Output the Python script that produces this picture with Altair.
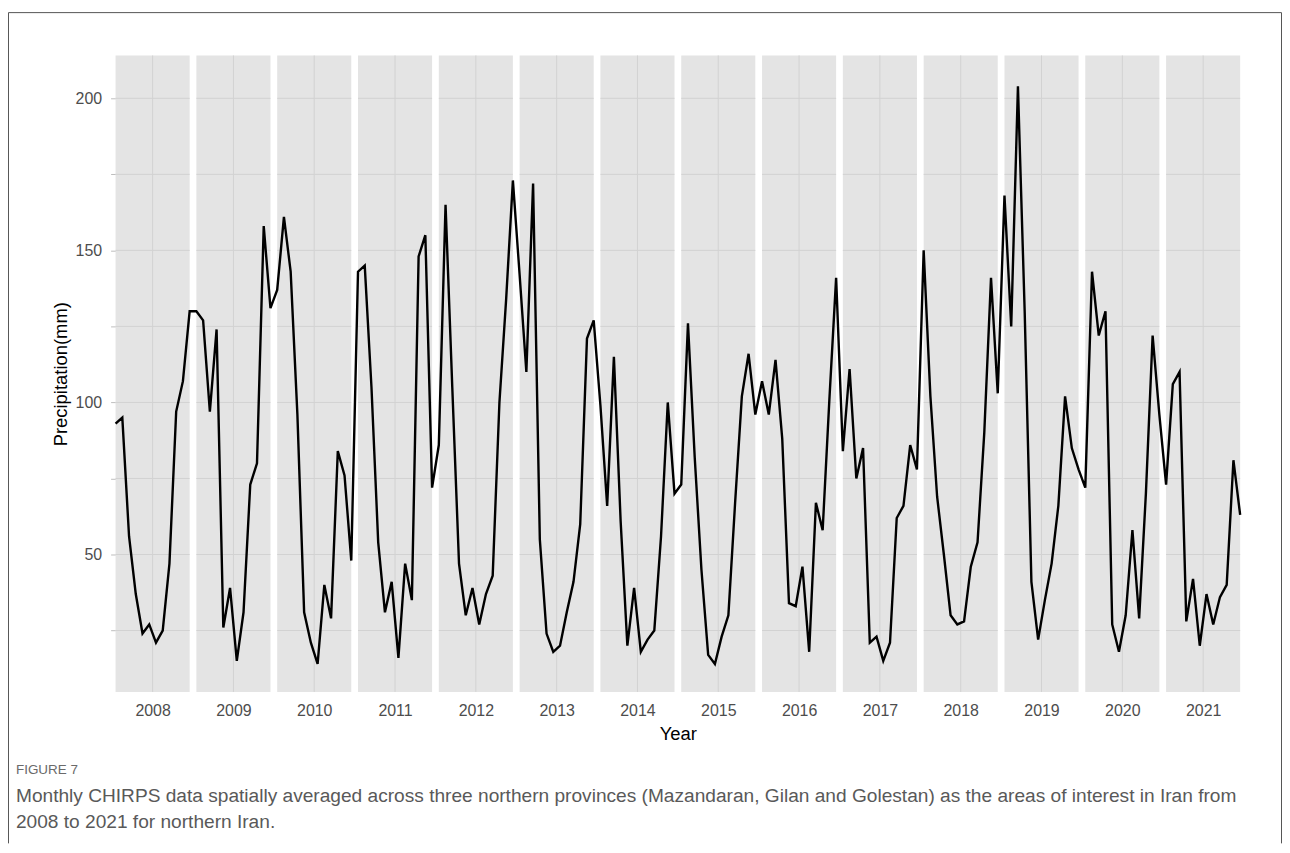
import altair as alt
import pandas as pd

# ---------------- data ----------------
years = list(range(2008, 2022))
# monthly precipitation (mm), Jan..Dec for each year 2008..2021
precip = [
    93, 95, 56, 37, 24, 27, 21, 25, 47, 97, 107, 130,      # 2008
    130, 127, 97, 124, 26, 39, 15, 31, 73, 80, 158, 131,   # 2009
    137, 161, 143, 96, 31, 21, 14, 40, 29, 84, 76, 48,     # 2010
    143, 145, 105, 54, 31, 41, 16, 47, 35, 148, 155, 72,   # 2011
    86, 165, 105, 47, 30, 39, 27, 37, 43, 100, 134, 173,   # 2012
    142, 110, 172, 55, 24, 18, 20, 31, 41, 60, 121, 127,   # 2013
    99, 66, 115, 61, 20, 39, 18, 22, 25, 56, 100, 70,      # 2014
    73, 126, 82, 45, 17, 14, 23, 30, 67, 102, 116, 96,     # 2015
    107, 96, 114, 88, 34, 33, 46, 18, 67, 58, 101, 141,    # 2016
    84, 111, 75, 85, 21, 23, 15, 21, 62, 66, 86, 78,       # 2017
    150, 102, 69, 50, 30, 27, 28, 46, 54, 90, 141, 103,    # 2018
    168, 125, 204, 130, 41, 22, 35, 47, 66, 102, 85, 78,   # 2019
    72, 143, 122, 130, 27, 18, 30, 58, 29, 70, 122, 96,    # 2020
    73, 106, 110, 28, 42, 20, 37, 27, 36, 40, 81, 63,      # 2021
]
y_ticks = [25, 50, 75, 100, 125, 150, 175, 200]
y_title = "Precipitation(mm)"
x_title = "Year"
fig_label = "FIGURE 7"
caption_1 = ("Monthly CHIRPS data spatially averaged across three northern provinces "
             "(Mazandaran, Gilan and Golestan) as the areas of interest in Iran from")
caption_2 = "2008 to 2021 for northern Iran."

# ---------------- tables ----------------
n = len(precip)
line_df = pd.DataFrame({"t": list(range(n)), "p": precip})
panel_df = pd.DataFrame({
    "year": years,
    "x0": [12 * k for k in range(len(years))],
    "x1": [12 * k + 11 for k in range(len(years))],
    "xc": [12 * k + 5.5 for k in range(len(years))],
})
hgrid_df = pd.DataFrame([
    {"x0": 12 * k, "x1": 12 * k + 11, "g": g}
    for k in range(len(years)) for g in y_ticks
])
one = pd.DataFrame({"k": [0]})

W, H = 1129, 639
X_DOM = [0, n - 1]
Y_DOM = [4.8, 214.1]

x_axis = alt.Axis(
    values=[12 * k + 5.5 for k in range(len(years))],
    labelExpr="'' + (2008 + floor(datum.value / 12))",
    ticks=False, domain=False, grid=False,
    labelPadding=11, labelFontSize=16, labelColor="#4d4d4d",
    title=x_title, titleFontSize=18.5, titleColor="#000000",
    titleFontWeight="normal", titlePadding=6,
)
y_axis = alt.Axis(
    values=y_ticks,
    labelExpr="datum.value % 50 == 0 ? datum.label : ''",
    ticks=True, tickSize=5, tickColor="#bdbdbd", domain=False, grid=False,
    labelPadding=9, labelFontSize=16, labelColor="#4d4d4d",
    title=y_title, titleFontSize=18.5, titleColor="#000000",
    titleFontWeight="normal", titlePadding=5,
)
xs = alt.Scale(domain=X_DOM, nice=False, zero=False)
ys = alt.Scale(domain=Y_DOM, nice=False, zero=False)

panels = alt.Chart(panel_df).mark_rect(color="#e4e4e4").encode(
    x=alt.X("x0:Q", scale=xs, axis=x_axis),
    x2="x1:Q",
    y=alt.value(0),
    y2=alt.value(H),
)

hgrid = alt.Chart(hgrid_df).mark_rule(color="#d2d2d2", strokeWidth=1).encode(
    x=alt.X("x0:Q", scale=xs, axis=x_axis),
    x2="x1:Q",
    y=alt.Y("g:Q", scale=ys, axis=y_axis),
)

vgrid = alt.Chart(panel_df).mark_rule(color="#d2d2d2", strokeWidth=1).encode(
    x=alt.X("xc:Q", scale=xs, axis=x_axis),
    y=alt.value(0),
    y2=alt.value(H),
)

line = alt.Chart(line_df).mark_line(color="#000000", strokeWidth=2.4).encode(
    x=alt.X("t:Q", scale=xs, axis=x_axis),
    y=alt.Y("p:Q", scale=ys, axis=y_axis),
)

# figure frame (page coords converted to plot-relative)
FL, FR, FT, FB = -107.5, 1170.5, -43, 791
frame_color = "#555555"
frame_left = alt.Chart(one).mark_rule(color=frame_color, strokeWidth=1).encode(
    x=alt.value(FL), y=alt.value(FT), y2=alt.value(FB))
frame_right = alt.Chart(one).mark_rule(color=frame_color, strokeWidth=1).encode(
    x=alt.value(FR), y=alt.value(FT), y2=alt.value(FB))
frame_top = alt.Chart(one).mark_rule(color=frame_color, strokeWidth=1).encode(
    x=alt.value(FL), x2=alt.value(FR), y=alt.value(FT))

cap_font = "Liberation Sans, Arial, sans-serif"
fig_txt = alt.Chart(one).mark_text(
    align="left", baseline="middle", font=cap_font, fontSize=13.5, color="#6a6a6a"
).encode(x=alt.value(-100), y=alt.value(717), text=alt.value(fig_label))
cap1 = alt.Chart(one).mark_text(
    align="left", baseline="middle", font=cap_font, fontSize=19.2, color="#595959"
).encode(x=alt.value(-100), y=alt.value(743), text=alt.value(caption_1))
cap2 = alt.Chart(one).mark_text(
    align="left", baseline="middle", font=cap_font, fontSize=19.2, color="#595959"
).encode(x=alt.value(-100), y=alt.value(770), text=alt.value(caption_2))

chart = alt.layer(
    panels, hgrid, vgrid, line,
    frame_left, frame_right, frame_top, fig_txt, cap1, cap2,
).properties(
    width=W, height=H,
    autosize=alt.AutoSizeParams(type="none"),
    padding={"left": 108, "top": 46, "right": 42, "bottom": 152},
).configure(
    font="Liberation Sans",
    background="white",
).configure_view(stroke=None)

chart.save("out.html", embed_options={"renderer": "svg", "actions": False})
